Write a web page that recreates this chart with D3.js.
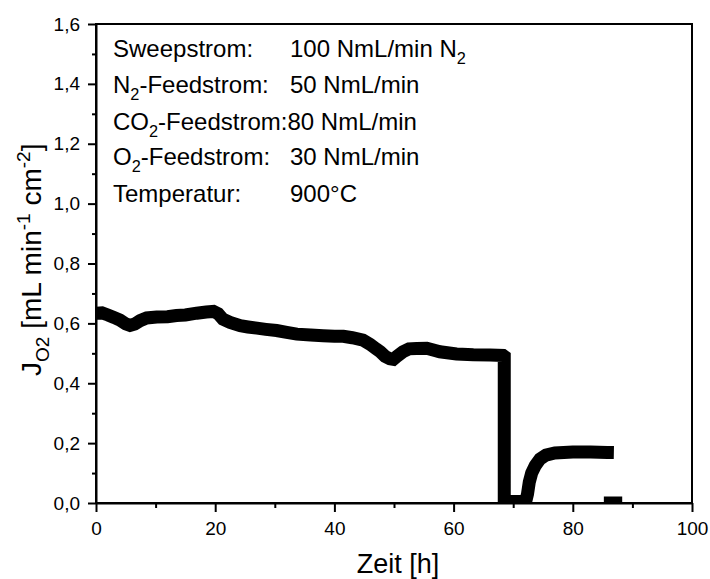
<!DOCTYPE html>
<html><head><meta charset="utf-8">
<script src="https://cdn.jsdelivr.net/npm/d3@7"></script>
<style>
body{margin:0;background:#fff}
svg{display:block}
text{font-family:"Liberation Sans",Arial,Helvetica,sans-serif;fill:#000}
</style>
</head><body>
<svg id="chart" width="710" height="579"></svg>
<script>
// ---- data ----
const timeH = [0,1,2,3,4,5,5.7,6.5,7.4,8.5,10.2,12,13.5,15,16.9,18.5,19.7,20.5,21.3,22.5,24.2,25.5,27,28.5,30.3,32,33.7,36,38.1,40,41.5,43,44.8,46,47,47.7,48.5,49.3,49.9,50.5,51.5,52.5,53.8,55.5,57.7,60.5,63.3,66.1,68.3,68.5,68.5,72.1,72.4,72.7,73.1,73.7,74.5,75.5,77,80,83,85.8,null,86.3,87.2];
const jO2   = [0.634,0.635,0.628,0.62,0.611,0.598,0.593,0.598,0.609,0.618,0.621,0.622,0.626,0.628,0.634,0.638,0.64,0.632,0.614,0.603,0.592,0.588,0.584,0.58,0.576,0.57,0.564,0.561,0.559,0.557,0.557,0.552,0.544,0.53,0.515,0.505,0.49,0.482,0.48,0.49,0.505,0.515,0.516,0.517,0.505,0.498,0.495,0.494,0.493,0.49,0.005,0.005,0.03,0.07,0.1,0.125,0.147,0.16,0.167,0.17,0.17,0.169,null,0,0];
const xTicks = [0,20,40,60,80,100];
const xMinor = [10,30,50,70,90];
const yTicks = [0,0.2,0.4,0.6,0.8,1.0,1.2,1.4,1.6];
const yMinor = [0.1,0.3,0.5,0.7,0.9,1.1,1.3,1.5];
const xTitle = "Zeit [h]";
const yTitleParts = [{t:"J"},{t:"O2",sub:true},{t:" [mL min"},{t:"-1",sup:true},{t:" cm"},{t:"-2",sup:true},{t:"]"}];
const legendLeft = [
  [{t:"Sweepstrom:"}],
  [{t:"N"},{t:"2",sub:true},{t:"-Feedstrom:"}],
  [{t:"CO"},{t:"2",sub:true},{t:"-Feedstrom:80 NmL/min"}],
  [{t:"O"},{t:"2",sub:true},{t:"-Feedstrom:"}],
  [{t:"Temperatur:"}]
];
const legendRight = [
  [{t:"100 NmL/min N"},{t:"2",sub:true}],
  [{t:"50 NmL/min"}],
  [],
  [{t:"30 NmL/min"}],
  [{t:"900°C"}]
];

// ---- layout ----
const L = 96, R = 692, T = 24, B = 503;
const svg = d3.select("#chart");
svg.append("rect").attr("width",710).attr("height",579).attr("fill","#fff");

const x = d3.scaleLinear().domain([0,100]).range([L,R]);
const y = d3.scaleLinear().domain([0,1.6]).range([B,T]);
const fmtY = v => d3.format(".1f")(v).replace(".", ",");

svg.append("clipPath").attr("id","clip").append("rect")
  .attr("x",L).attr("y",T).attr("width",R-L).attr("height",B-T);

const pts = timeH.map((t,i)=>[t,jO2[i]]);
const line = d3.line().defined(d=>d[0]!=null && d[1]!=null).x(d=>x(d[0])).y(d=>y(d[1]));
svg.append("path").datum(pts)
  .attr("clip-path","url(#clip)")
  .attr("d",line).attr("fill","none").attr("stroke","#000")
  .attr("stroke-width",13).attr("stroke-linejoin","miter").attr("stroke-linecap","square");

svg.append("rect").attr("x",L).attr("y",T).attr("width",R-L).attr("height",B-T)
  .attr("fill","none").attr("stroke","#000").attr("stroke-width",2);

function styleAxis(g){
  g.selectAll("path,line").attr("stroke","#000").attr("stroke-width",2);
  g.selectAll("text").attr("fill","#000").style("font-size","19px")
   .style("font-family",'"Liberation Sans",Arial,sans-serif');
}
const gx = svg.append("g").attr("transform",`translate(0,${B})`)
  .call(d3.axisBottom(x).tickValues(xTicks).tickSize(9).tickSizeOuter(0).tickPadding(10).tickFormat(d=>d));
styleAxis(gx);
const gxm = svg.append("g").attr("transform",`translate(0,${B})`)
  .call(d3.axisBottom(x).tickValues(xMinor).tickSize(5).tickSizeOuter(0).tickFormat(""));
styleAxis(gxm); gxm.select(".domain").remove();

const gy = svg.append("g").attr("transform",`translate(${L},0)`)
  .call(d3.axisLeft(y).tickValues(yTicks).tickSize(8).tickSizeOuter(0).tickPadding(8).tickFormat(fmtY));
styleAxis(gy);
const gym = svg.append("g").attr("transform",`translate(${L},0)`)
  .call(d3.axisLeft(y).tickValues(yMinor).tickSize(4).tickSizeOuter(0).tickFormat(""));
styleAxis(gym); gym.select(".domain").remove();

function rich(textSel, parts, size){
  let shift = 0;
  parts.forEach(p=>{
    const want = p.sub ? size*0.3 : (p.sup ? -size*0.4 : 0);
    textSel.append("tspan").text(p.t)
      .style("font-size",(p.sub||p.sup) ? (size*0.68)+"px" : size+"px")
      .attr("dy", want - shift);
    shift = want;
  });
}

svg.append("text").attr("x",(L+R)/2+4).attr("y",573).attr("text-anchor","middle")
  .style("font-size","27px").text(xTitle);
const yt = svg.append("text").attr("transform","translate(41,376) rotate(-90)")
  .attr("text-anchor","start");
rich(yt, yTitleParts, 28);

const baselines = [57,93,130,165,202];
legendLeft.forEach((parts,i)=>{
  const t = svg.append("text").attr("x",113).attr("y",baselines[i]);
  rich(t, parts, 24);
  if (legendRight[i].length){
    const t2 = svg.append("text").attr("x",290).attr("y",baselines[i]);
    rich(t2, legendRight[i], 24);
  }
});
</script>
</body></html>
